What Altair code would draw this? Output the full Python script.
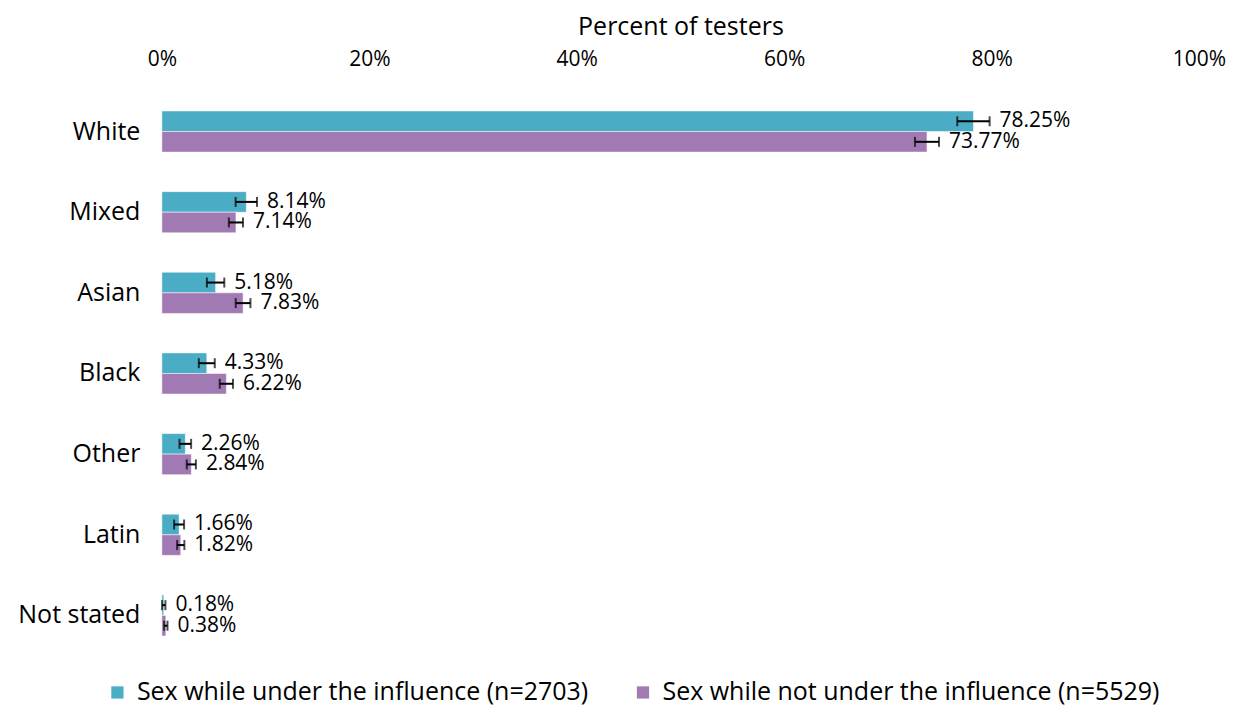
import altair as alt
import pandas as pd

categories = ["White", "Mixed", "Asian", "Black", "Other", "Latin", "Not stated"]
series_names = ["Sex while under the influence (n=2703)", "Sex while not under the influence (n=5529)"]
under_vals = [78.25, 8.14, 5.18, 4.33, 2.26, 1.66, 0.18]
not_vals = [73.77, 7.14, 7.83, 6.22, 2.84, 1.82, 0.38]
under_err = [1.56, 1.03, 0.84, 0.77, 0.56, 0.48, 0.16]
not_err = [1.16, 0.68, 0.71, 0.64, 0.44, 0.35, 0.16]
colors = ["#4BACC6", "#A17AB4"]
x_ticks = [0, 20, 40, 60, 80, 100]

rows = []
for s, vals, errs in [(series_names[0], under_vals, under_err), (series_names[1], not_vals, not_err)]:
    for c, v, e in zip(categories, vals, errs):
        rows.append({"cat": c, "series": s, "value": v, "lo": v - e, "hi": v + e,
                     "label": f"{v:.2f}%"})
df = pd.DataFrame(rows)

FONT = "Open Sans"

y_enc = alt.Y("cat:N", sort=categories, title=None,
              scale=alt.Scale(paddingInner=0.49, paddingOuter=0.245),
              axis=alt.Axis(labelFontSize=25, labelColor="#000", labelFont=FONT,
                            ticks=False, domain=False, labelPadding=22, minExtent=149))
yoff = alt.YOffset("series:N", sort=series_names, scale=alt.Scale(paddingInner=0, paddingOuter=0))
x_scale = alt.Scale(domain=[0, 100], nice=False)

base = alt.Chart(df)

bars = base.mark_bar(stroke="white", strokeWidth=0.5).encode(
    x=alt.X("value:Q", scale=x_scale, title="Percent of testers",
            axis=alt.Axis(orient="top", values=x_ticks, labelExpr="datum.value + '%'",
                          grid=False, ticks=False, domain=False, labelFontSize=21,
                          labelFlush=False, labelBound=False,
                          labelFont=FONT, labelColor="#000", labelPadding=22,
                          titleFont=FONT, titleFontSize=25, titleFontWeight="normal",
                          titleColor="#000", titlePadding=9)),
    y=y_enc,
    yOffset=yoff,
    color=alt.Color("series:N", sort=series_names,
                    scale=alt.Scale(domain=series_names, range=colors),
                    legend=alt.Legend(title=None, orient="none", direction="horizontal",
                                      legendX=-57, legendY=589, symbolType="square",
                                      symbolSize=150, symbolStrokeWidth=0, padding=0,
                                      labelFontSize=25, labelFont=FONT, labelColor="#000",
                                      labelLimit=700, columnPadding=42, labelOffset=7)),
)

rules = base.mark_rule(color="black", strokeWidth=2).encode(
    x="lo:Q", x2="hi:Q", y=alt.Y("cat:N", sort=categories), yOffset=yoff)

cap_lo = base.mark_tick(color="black", thickness=2, size=10, orient="vertical").encode(
    x="lo:Q", y=alt.Y("cat:N", sort=categories), yOffset=yoff)
cap_hi = base.mark_tick(color="black", thickness=2, size=10, orient="vertical").encode(
    x="hi:Q", y=alt.Y("cat:N", sort=categories), yOffset=yoff)

texts = base.mark_text(align="left", baseline="middle", dx=10, fontSize=21, font=FONT,
                       color="#000").encode(
    x="hi:Q", y=alt.Y("cat:N", sort=categories), yOffset=yoff, text="label:N")

chart = alt.layer(bars, rules, cap_lo, cap_hi, texts).properties(
    width=1038, height=565, background="white",
    padding={"left": 5, "top": 6, "right": 0, "bottom": 0}
).configure_view(strokeWidth=0, stroke=None)

chart.save("out.html", embed_options={"renderer": "svg", "actions": False})
